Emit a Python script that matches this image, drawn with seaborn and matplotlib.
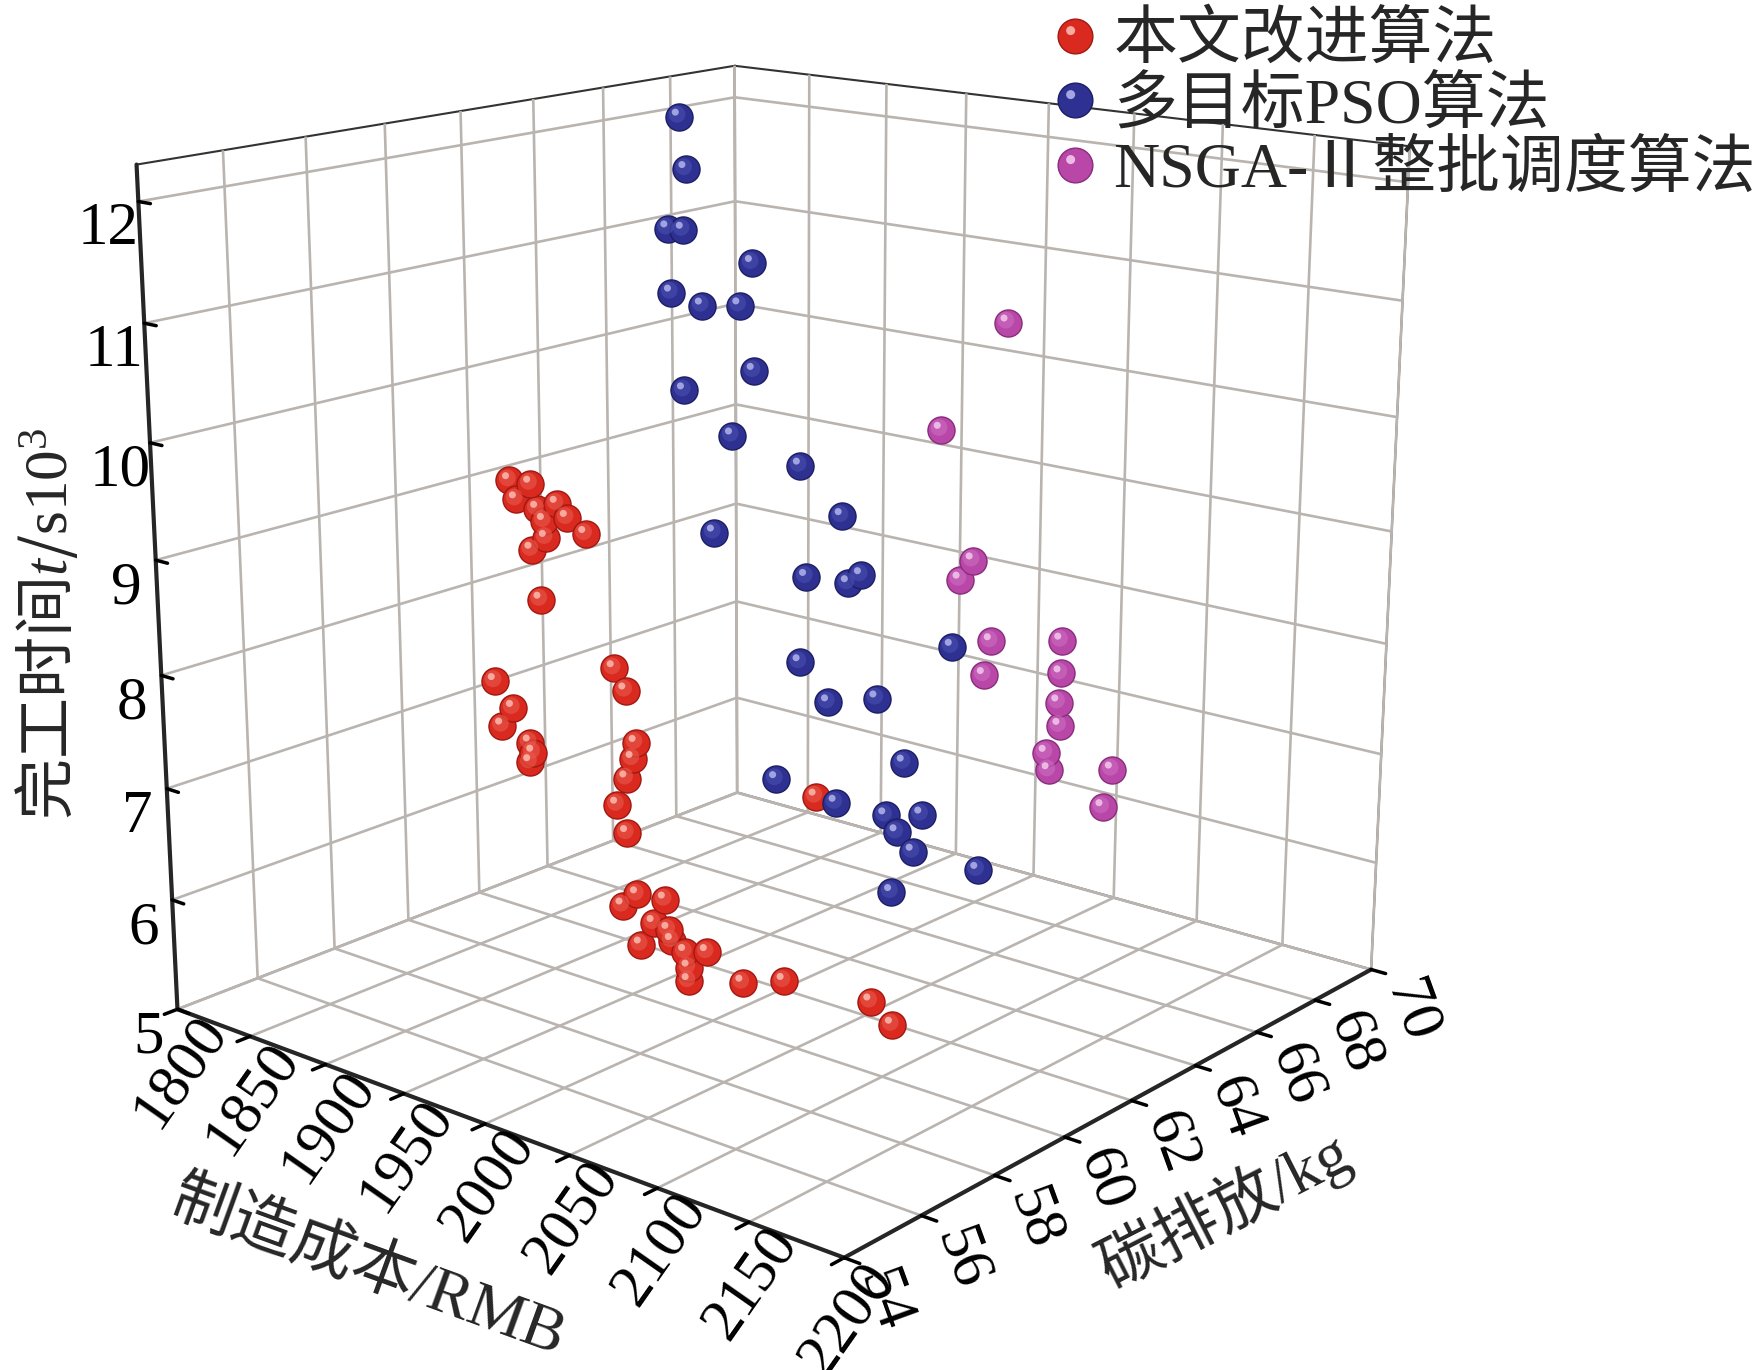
import numpy as np
import matplotlib
matplotlib.use('Agg')
import matplotlib.pyplot as plt
from matplotlib.path import Path
from matplotlib.lines import Line2D
from matplotlib.legend_handler import HandlerTuple
import seaborn as sns

# ---- data (cost RMB, carbon kg, finish time 10^3 s) ----
red_cost = [1925, 1938, 1929, 1942, 1954, 1960, 1946, 1947, 1938, 1971, 1943,
            1950, 1957, 1963, 1961, 1957, 1951, 1957,
            1933, 1944, 1937, 1954, 1956, 1954,
            2086,
            1972, 1981, 1998, 1991, 2000, 1983, 2002, 2010, 2023, 2012, 2012, 2044, 2068, 2117, 2129]
red_carbon = [58.0] * 11 + [59.6] * 7 + [57.2] * 6 + [58.8] + [58.8] * 15
red_time = [9.70, 9.71, 9.55, 9.51, 9.59, 9.49, 9.42, 9.28, 9.15, 9.39, 8.74,
            8.00, 7.83, 7.39, 7.24, 7.05, 6.79, 6.56,
            8.09, 7.90, 7.72, 7.64, 7.56, 7.47,
            7.52,
            6.08, 6.22, 6.25, 6.01, 5.99, 5.78, 5.90, 5.84, 5.90, 5.71, 5.59, 5.73, 5.86, 5.92, 5.78]

blue_cost = [1868, 1872, 1860, 1870, 1914, 1862, 1882, 1906, 1915, 1870,
             1901, 1944, 1970, 1889, 1948, 1974, 1982, 2037, 1944, 1962,
             1992, 2009, 1929, 1967, 1998, 2005, 2015, 2020, 2054, 2002]
blue_carbon = [65.2] * 30
blue_time = [12.20, 11.74, 11.18, 11.19, 10.99, 10.60, 10.53, 10.59, 10.02, 9.72,
             9.39, 9.24, 8.86, 8.45, 8.23, 8.26, 8.36, 7.90, 7.42, 7.11,
             7.26, 6.73, 6.25, 6.18, 6.19, 6.06, 5.92, 6.29, 5.92, 5.48]

pink_cost = [1998, 1958, 1979, 1971, 1991, 2034, 1987, 2034, 2033, 2034, 2026, 2028, 2066, 2061]
pink_carbon = [68.9] * 14
pink_time = [10.39, 9.29, 8.12, 7.91, 7.39, 7.55, 7.05, 7.24, 6.96, 6.74, 6.45, 6.29, 6.45, 6.07]

names = ['本文改进算法', '多目标PSO算法', 'NSGA-Ⅱ整批调度算法']
x_ticks = [1800, 1850, 1900, 1950, 2000, 2050, 2100, 2150, 2200]
y_ticks = [54, 56, 58, 60, 62, 64, 66, 68, 70]
z_ticks = [5, 6, 7, 8, 9, 10, 11, 12]

# ---- style ----
sns.set_style('white')
plt.rcParams['font.family'] = ['Liberation Serif', 'Noto Sans CJK SC']
plt.rcParams['mathtext.fontset'] = 'custom'
plt.rcParams['mathtext.rm'] = 'Liberation Serif'
plt.rcParams['mathtext.it'] = 'Liberation Serif:italic'
plt.rcParams['xtick.major.width'] = 2.5
plt.rcParams['ytick.major.width'] = 2.5
plt.rcParams['grid.color'] = '#b9b4af'
plt.rcParams['grid.linewidth'] = 1.9

# highlight spot for the sphere look (off-centre, so pad the path with corners)
hl = Path.make_compound_path(Path([(-1, -1)], [Path.MOVETO]),
                             Path([(1, 1)], [Path.MOVETO]),
                             Path.circle(center=(-0.28, 0.34), radius=0.26))
hl_big = Path.make_compound_path(Path([(-1, -1)], [Path.MOVETO]),
                                 Path([(1, 1)], [Path.MOVETO]),
                                 Path.circle(center=(-0.15, 0.18), radius=0.62))

colors = [('#da2a1f', '#a01812', '#e85a4d', '#ffc2b8'),
          ('#2e3192', '#1c1e63', '#4a4fb0', '#b9bcf0'),
          ('#b847a8', '#8a2c7c', '#cc6cbf', '#f6d0f0')]

fig = plt.figure(figsize=(17.53, 13.70), dpi=100)
ax = fig.add_axes([0.045, 0.059, 0.7815, 1.0], projection='3d', computed_zorder=False)
ax.set_proj_type('persp', focal_length=0.5)
ax.view_init(elev=16, azim=-50)
ax.set_box_aspect((1.1, 1.1, 1.09), zoom=1.07)

size = 380
series = [(red_cost, red_carbon, red_time), (blue_cost, blue_carbon, blue_time),
          (pink_cost, pink_carbon, pink_time)]
for (xs, ys, zs), (c, ec, mid, light) in zip(series, colors):
    ax.scatter(xs, ys, zs, s=size, c=c, edgecolors=ec, linewidths=1.0, depthshade=False)
    ax.scatter(xs, ys, zs, s=size, marker=hl_big, c=mid, edgecolors='none', alpha=0.6, depthshade=False)
    ax.scatter(xs, ys, zs, s=size, marker=hl, c=light, edgecolors='none', alpha=0.8, depthshade=False)

ax.set_xlim(1800, 2200)
ax.set_ylim(54, 70)
ax.set_zlim(5, 12.3)
ax.set_xticks(x_ticks)
ax.set_yticks(y_ticks)
ax.set_zticks(z_ticks)

for axis in (ax.xaxis, ax.yaxis, ax.zaxis):
    axis.set_pane_color((1, 1, 1, 1))
    axis.pane.set_edgecolor('#333333')
    axis.pane.set_linewidth(1.5)
    axis._axinfo['tick']['inward_factor'] = 0.25
    axis._axinfo['tick']['outward_factor'] = 0.0
    axis._axinfo['axisline']['color'] = (0, 0, 0, 1)
    axis.line.set_linewidth(3.0)
# put the time axis on the left edge
ax.zaxis._axinfo['juggled'] = (1, 2, 0)

ax.tick_params(labelsize=44, colors='black')
ax.tick_params(axis='x', labelrotation=55, pad=-10)
ax.tick_params(axis='y', labelrotation=-70, pad=-6)
ax.tick_params(axis='z', pad=4)
for lab in ax.get_yticklabels():
    lab.set_horizontalalignment('left')

# axis titles placed by hand along the edges, as in the original
fig.text(0.210, 0.074, '制造成本/RMB', fontsize=46, rotation=-20,
         rotation_mode='anchor', ha='center', va='center')
fig.text(0.698, 0.117, '碳排放/kg', fontsize=46, rotation=27,
         rotation_mode='anchor', ha='center', va='center')
fig.text(0.027, 0.545, '完工时间$t$/$\\mathrm{s10^3}$', fontsize=44, rotation=90,
         rotation_mode='anchor', ha='center', va='center', family='Noto Sans CJK SC')

handles = []
for c, ec, mid, light in colors:
    base = Line2D([], [], ls='', marker='o', markersize=25, markerfacecolor=c, markeredgecolor=ec)
    spot = Line2D([], [], ls='', marker=hl, markersize=25, markerfacecolor=light,
                  markeredgecolor='none', alpha=0.85)
    handles.append((base, spot))
fig.legend(handles, names, loc='upper right', bbox_to_anchor=(1.018, 1.012), frameon=False,
           fontsize=46, handler_map={tuple: HandlerTuple(ndivide=1)},
           handletextpad=0.1, handlelength=1.0, labelspacing=0.08, borderaxespad=0.05)

fig.savefig('out.png', dpi=100)
